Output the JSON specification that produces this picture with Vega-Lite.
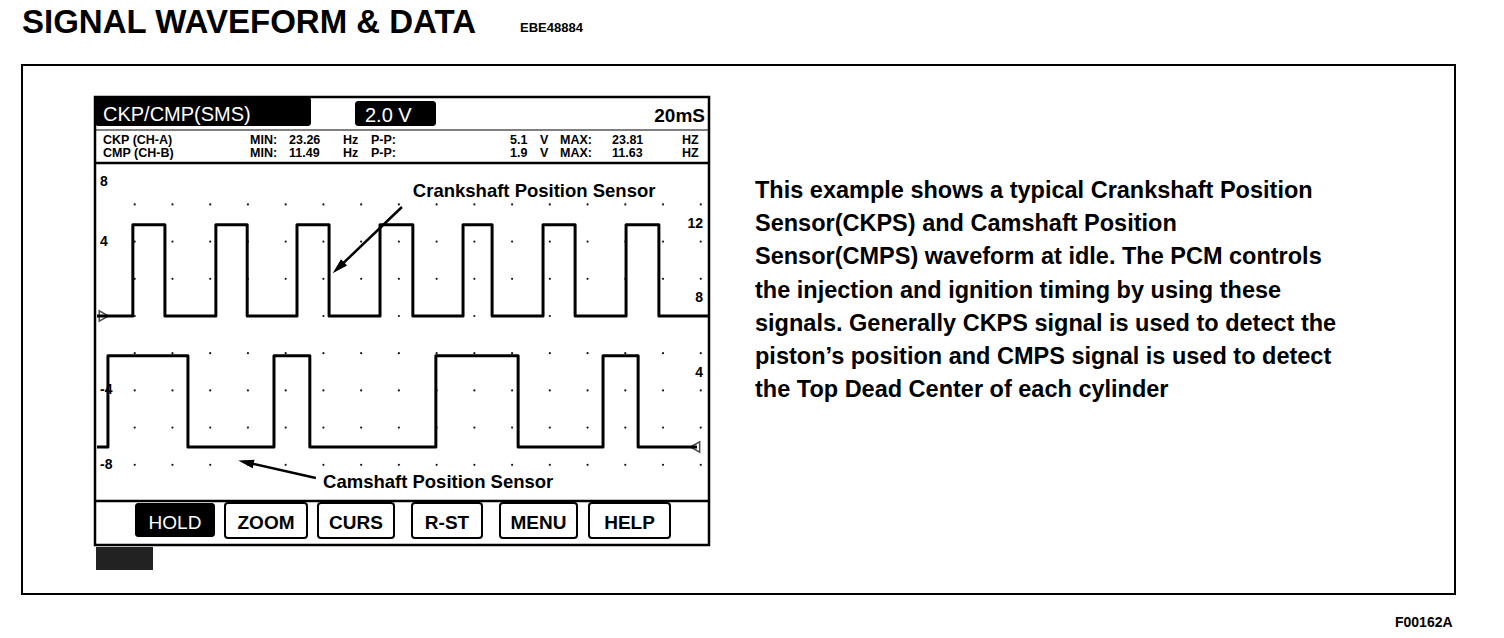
{
  "$schema": "https://vega.github.io/schema/vega-lite/v6.json",
  "width": 1504,
  "height": 638,
  "padding": 0,
  "autosize": {"type": "none"},
  "background": "white",
  "config": {"view": {"stroke": null}, "text": {"font": "Liberation Sans, Arial, sans-serif"}},
  "datasets": {
    "frame": [{"x": 22, "y": 65, "x2": 1455, "y2": 594}],
    "scope": [{"x": 95, "y": 97, "x2": 709, "y2": 545}],
    "blackBoxes": [
      {"x": 95, "y": 97, "x2": 311, "y2": 126},
      {"x": 355, "y": 101, "x2": 436, "y2": 126},
      {"x": 135, "y": 503, "x2": 215, "y2": 537}
    ],
    "noise": [{"x": 96, "y": 547, "x2": 153, "y2": 570}],
    "buttons": [
      {"x": 225, "y": 503, "x2": 307, "y2": 538},
      {"x": 318, "y": 503, "x2": 394, "y2": 538},
      {"x": 412, "y": 503, "x2": 482, "y2": 538},
      {"x": 500, "y": 503, "x2": 577, "y2": 538},
      {"x": 589, "y": 503, "x2": 670, "y2": 538}
    ],
    "thinLines": [{"x": 95, "y": 130, "x2": 709, "y2": 130}],
    "thickLines": [
      {"x": 95, "y": 163, "x2": 709, "y2": 163},
      {"x": 95, "y": 501, "x2": 709, "y2": 501}
    ],
    "headerWhite": [
      {"label": "CKP/CMP(SMS)", "x": 103, "y": 121},
      {"label": "2.0 V", "x": 365, "y": 122}
    ],
    "timebase": [{"label": "20mS", "x": 705, "y": 122}],
    "headerRows": [
      {"label": "CKP (CH-A)", "x": 103, "y": 144},
      {"label": "MIN:", "x": 250, "y": 144},
      {"label": "23.26", "x": 289, "y": 144},
      {"label": "Hz", "x": 343, "y": 144},
      {"label": "P-P:", "x": 371, "y": 144},
      {"label": "5.1", "x": 510, "y": 144},
      {"label": "V", "x": 540, "y": 144},
      {"label": "MAX:", "x": 560, "y": 144},
      {"label": "23.81", "x": 612, "y": 144},
      {"label": "HZ", "x": 682, "y": 144},
      {"label": "CMP (CH-B)", "x": 103, "y": 157},
      {"label": "MIN:", "x": 250, "y": 157},
      {"label": "11.49", "x": 289, "y": 157},
      {"label": "Hz", "x": 343, "y": 157},
      {"label": "P-P:", "x": 371, "y": 157},
      {"label": "1.9", "x": 510, "y": 157},
      {"label": "V", "x": 540, "y": 157},
      {"label": "MAX:", "x": 560, "y": 157},
      {"label": "11.63", "x": 612, "y": 157},
      {"label": "HZ", "x": 682, "y": 157}
    ],
    "buttonLabels": [
      {"label": "ZOOM", "x": 266, "y": 529},
      {"label": "CURS", "x": 356, "y": 529},
      {"label": "R-ST", "x": 447, "y": 529},
      {"label": "MENU", "x": 538.5, "y": 529},
      {"label": "HELP", "x": 629.5, "y": 529}
    ],
    "holdLabel": [{"label": "HOLD", "x": 175, "y": 529}],
    "title": [{"label": "SIGNAL WAVEFORM & DATA", "x": 22, "y": 33}],
    "code": [{"label": "EBE48884", "x": 520, "y": 32}],
    "figId": [{"label": "F00162A", "x": 1395, "y": 627}],
    "paragraph": [
      {"label": "This example shows a typical Crankshaft Position", "x": 755, "y": 198},
      {"label": "Sensor(CKPS) and Camshaft Position", "x": 755, "y": 231.2},
      {"label": "Sensor(CMPS) waveform at idle. The PCM controls", "x": 755, "y": 264.4},
      {"label": "the injection and ignition timing by using these", "x": 755, "y": 297.6},
      {"label": "signals.  Generally CKPS signal is used to detect the", "x": 755, "y": 330.8},
      {"label": "piston’s position and CMPS signal is used to detect", "x": 755, "y": 364},
      {"label": "the Top Dead Center of each cylinder", "x": 755, "y": 397.2}
    ],
    "ckp": [
      {"t": 0, "v": 0}, {"t": 9.5, "v": 4.9}, {"t": 18.0, "v": 0},
      {"t": 31.5, "v": 4.9}, {"t": 39.8, "v": 0},
      {"t": 53.0, "v": 4.9}, {"t": 61.5, "v": 0},
      {"t": 75.0, "v": 4.9}, {"t": 83.7, "v": 0},
      {"t": 97.0, "v": 4.9}, {"t": 104.7, "v": 0},
      {"t": 118.2, "v": 4.9}, {"t": 126.7, "v": 0},
      {"t": 140.2, "v": 4.9}, {"t": 148.9, "v": 0},
      {"t": 161.9, "v": 0}
    ],
    "cmp": [
      {"t": 0, "v": 0}, {"t": 2.9, "v": 4.9}, {"t": 24.1, "v": 0},
      {"t": 46.9, "v": 4.9}, {"t": 56.4, "v": 0},
      {"t": 89.8, "v": 4.9}, {"t": 111.6, "v": 0},
      {"t": 134.1, "v": 4.9}, {"t": 143.4, "v": 0},
      {"t": 159.0, "v": 0}
    ],
    "grid": [
      {"t": 10, "v": 6}, {"t": 20, "v": 6}, {"t": 30, "v": 6}, {"t": 40, "v": 6}, {"t": 50, "v": 6}, {"t": 60, "v": 6}, {"t": 70, "v": 6}, {"t": 80, "v": 6}, {"t": 90, "v": 6}, {"t": 100, "v": 6}, {"t": 110, "v": 6}, {"t": 120, "v": 6}, {"t": 130, "v": 6}, {"t": 140, "v": 6}, {"t": 150, "v": 6}, {"t": 160, "v": 6},
      {"t": 10, "v": 4}, {"t": 20, "v": 4}, {"t": 30, "v": 4}, {"t": 40, "v": 4}, {"t": 50, "v": 4}, {"t": 60, "v": 4}, {"t": 70, "v": 4}, {"t": 80, "v": 4}, {"t": 90, "v": 4}, {"t": 100, "v": 4}, {"t": 110, "v": 4}, {"t": 120, "v": 4}, {"t": 130, "v": 4}, {"t": 140, "v": 4}, {"t": 150, "v": 4}, {"t": 160, "v": 4},
      {"t": 10, "v": 2}, {"t": 20, "v": 2}, {"t": 30, "v": 2}, {"t": 40, "v": 2}, {"t": 50, "v": 2}, {"t": 60, "v": 2}, {"t": 70, "v": 2}, {"t": 80, "v": 2}, {"t": 90, "v": 2}, {"t": 100, "v": 2}, {"t": 110, "v": 2}, {"t": 120, "v": 2}, {"t": 130, "v": 2}, {"t": 140, "v": 2}, {"t": 150, "v": 2}, {"t": 160, "v": 2},
      {"t": 10, "v": 0}, {"t": 20, "v": 0}, {"t": 30, "v": 0}, {"t": 40, "v": 0}, {"t": 50, "v": 0}, {"t": 60, "v": 0}, {"t": 70, "v": 0}, {"t": 80, "v": 0}, {"t": 90, "v": 0}, {"t": 100, "v": 0}, {"t": 110, "v": 0}, {"t": 120, "v": 0}, {"t": 130, "v": 0}, {"t": 140, "v": 0}, {"t": 150, "v": 0}, {"t": 160, "v": 0},
      {"t": 10, "v": -2}, {"t": 20, "v": -2}, {"t": 30, "v": -2}, {"t": 40, "v": -2}, {"t": 50, "v": -2}, {"t": 60, "v": -2}, {"t": 70, "v": -2}, {"t": 80, "v": -2}, {"t": 90, "v": -2}, {"t": 100, "v": -2}, {"t": 110, "v": -2}, {"t": 120, "v": -2}, {"t": 130, "v": -2}, {"t": 140, "v": -2}, {"t": 150, "v": -2}, {"t": 160, "v": -2},
      {"t": 10, "v": -4}, {"t": 20, "v": -4}, {"t": 30, "v": -4}, {"t": 40, "v": -4}, {"t": 50, "v": -4}, {"t": 60, "v": -4}, {"t": 70, "v": -4}, {"t": 80, "v": -4}, {"t": 90, "v": -4}, {"t": 100, "v": -4}, {"t": 110, "v": -4}, {"t": 120, "v": -4}, {"t": 130, "v": -4}, {"t": 140, "v": -4}, {"t": 150, "v": -4}, {"t": 160, "v": -4},
      {"t": 10, "v": -6}, {"t": 20, "v": -6}, {"t": 30, "v": -6}, {"t": 40, "v": -6}, {"t": 50, "v": -6}, {"t": 60, "v": -6}, {"t": 70, "v": -6}, {"t": 80, "v": -6}, {"t": 90, "v": -6}, {"t": 100, "v": -6}, {"t": 110, "v": -6}, {"t": 120, "v": -6}, {"t": 130, "v": -6}, {"t": 140, "v": -6}, {"t": 150, "v": -6}, {"t": 160, "v": -6},
      {"t": 10, "v": -8}, {"t": 20, "v": -8}, {"t": 30, "v": -8}, {"t": 40, "v": -8}, {"t": 50, "v": -8}, {"t": 60, "v": -8}, {"t": 70, "v": -8}, {"t": 80, "v": -8}, {"t": 90, "v": -8}, {"t": 100, "v": -8}, {"t": 110, "v": -8}, {"t": 120, "v": -8}, {"t": 130, "v": -8}, {"t": 140, "v": -8}, {"t": 150, "v": -8}, {"t": 160, "v": -8}
    ],
    "leftLabels": [
      {"label": "4", "t": 0.8, "v": 4},
      {"label": "-4", "t": 0.8, "v": -4},
      {"label": "-8", "t": 0.8, "v": -8}
    ],
    "topLabel": [{"label": "8", "t": 0.8, "v": 8}],
    "markerA": [{"t": 1.8, "v": 0}],
    "notes": [
      {"label": "Crankshaft Position Sensor", "t": 83.7, "v": 6.4},
      {"label": "Camshaft Position Sensor", "t": 59.9, "v": -9.25}
    ],
    "arrows": [
      {"t": 80.8, "v": 5.86, "t2": 64.08, "v2": 2.613},
      {"t": 58.0, "v": -8.71, "t2": 39.64, "v2": -7.871}
    ],
    "headCrank": [{"t": 64.08, "v": 2.613}],
    "headCam": [{"t": 39.64, "v": -7.871}],
    "rightLabels": [
      {"label": "12", "t": 160.6, "v": 12},
      {"label": "8", "t": 160.6, "v": 8},
      {"label": "4", "t": 160.6, "v": 4}
    ],
    "markerB": [{"t": 158.5, "v": 0}]
  },
  "layer": [
    {
      "encoding": {
        "x": {"field": "x", "type": "quantitative", "axis": null, "scale": {"domain": [0, 1504], "nice": false, "zero": false}},
        "y": {"field": "y", "type": "quantitative", "axis": null, "scale": {"domain": [0, 638], "reverse": true, "nice": false, "zero": false}}
      },
      "layer": [
        {"data": {"name": "frame"}, "mark": {"type": "rect", "fill": "white", "stroke": "black", "strokeWidth": 2}, "encoding": {"x2": {"field": "x2"}, "y2": {"field": "y2"}}},
        {"data": {"name": "scope"}, "mark": {"type": "rect", "fill": "white", "stroke": "black", "strokeWidth": 2.5}, "encoding": {"x2": {"field": "x2"}, "y2": {"field": "y2"}}},
        {"data": {"name": "thinLines"}, "mark": {"type": "rule", "stroke": "black", "strokeWidth": 1}, "encoding": {"x2": {"field": "x2"}, "y2": {"field": "y2"}}},
        {"data": {"name": "thickLines"}, "mark": {"type": "rule", "stroke": "black", "strokeWidth": 2.5}, "encoding": {"x2": {"field": "x2"}, "y2": {"field": "y2"}}},
        {"data": {"name": "blackBoxes"}, "mark": {"type": "rect", "fill": "black", "cornerRadius": 3}, "encoding": {"x2": {"field": "x2"}, "y2": {"field": "y2"}}},
        {"data": {"name": "noise"}, "mark": {"type": "rect", "fill": "#222222"}, "encoding": {"x2": {"field": "x2"}, "y2": {"field": "y2"}}},
        {"data": {"name": "buttons"}, "mark": {"type": "rect", "fill": "white", "stroke": "black", "strokeWidth": 2, "cornerRadius": 3}, "encoding": {"x2": {"field": "x2"}, "y2": {"field": "y2"}}},
        {"data": {"name": "headerWhite"}, "mark": {"type": "text", "align": "left", "baseline": "alphabetic", "fontSize": 20, "fill": "white"}, "encoding": {"text": {"field": "label"}}},
        {"data": {"name": "timebase"}, "mark": {"type": "text", "align": "right", "baseline": "alphabetic", "fontSize": 19, "fontWeight": "bold", "fill": "black"}, "encoding": {"text": {"field": "label"}}},
        {"data": {"name": "headerRows"}, "mark": {"type": "text", "align": "left", "baseline": "alphabetic", "fontSize": 12.5, "fontWeight": "bold", "fill": "black"}, "encoding": {"text": {"field": "label"}}},
        {"data": {"name": "buttonLabels"}, "mark": {"type": "text", "align": "center", "baseline": "alphabetic", "fontSize": 19, "fontWeight": "bold", "fill": "black"}, "encoding": {"text": {"field": "label"}}},
        {"data": {"name": "holdLabel"}, "mark": {"type": "text", "align": "center", "baseline": "alphabetic", "fontSize": 19, "fill": "white"}, "encoding": {"text": {"field": "label"}}},
        {"data": {"name": "title"}, "mark": {"type": "text", "align": "left", "baseline": "alphabetic", "fontSize": 33, "fontWeight": "bold", "fill": "black"}, "encoding": {"text": {"field": "label"}}},
        {"data": {"name": "code"}, "mark": {"type": "text", "align": "left", "baseline": "alphabetic", "fontSize": 13, "fontWeight": "bold", "fill": "black"}, "encoding": {"text": {"field": "label"}}},
        {"data": {"name": "figId"}, "mark": {"type": "text", "align": "left", "baseline": "alphabetic", "fontSize": 14, "fontWeight": "bold", "fill": "black"}, "encoding": {"text": {"field": "label"}}},
        {"data": {"name": "paragraph"}, "mark": {"type": "text", "align": "left", "baseline": "alphabetic", "fontSize": 23.5, "fontWeight": "bold", "fill": "black"}, "encoding": {"text": {"field": "label"}}}
      ]
    },
    {
      "encoding": {
        "x": {"field": "t", "type": "quantitative", "axis": null, "scale": {"domain": [-25.705, 372.855], "nice": false, "zero": false}},
        "y": {"field": "v", "type": "quantitative", "axis": null, "scale": {"domain": [-17.312, 16.989], "nice": false, "zero": false}}
      },
      "layer": [
        {"data": {"name": "grid"}, "mark": {"type": "point", "filled": true, "fill": "black", "size": 5, "opacity": 0.9}},
        {"data": {"name": "ckp"}, "mark": {"type": "line", "interpolate": "step-after", "stroke": "black", "strokeWidth": 3, "strokeJoin": "round"}, "encoding": {}},
        {"data": {"name": "leftLabels"}, "mark": {"type": "text", "align": "left", "baseline": "middle", "fontSize": 14, "fontWeight": "bold", "fill": "black"}, "encoding": {"text": {"field": "label"}}},
        {"data": {"name": "topLabel"}, "mark": {"type": "text", "align": "left", "baseline": "middle", "fontSize": 14, "fontWeight": "bold", "fill": "black", "dy": 15}, "encoding": {"text": {"field": "label"}}},
        {"data": {"name": "markerA"}, "mark": {"type": "point", "shape": "triangle-right", "filled": false, "stroke": "black", "strokeWidth": 1.5, "size": 110}},
        {"data": {"name": "notes"}, "mark": {"type": "text", "align": "left", "baseline": "alphabetic", "fontSize": 18.5, "fontWeight": "bold", "fill": "black"}, "encoding": {"text": {"field": "label"}}},
        {"data": {"name": "arrows"}, "mark": {"type": "rule", "stroke": "black", "strokeWidth": 2.5}, "encoding": {"x2": {"field": "t2"}, "y2": {"field": "v2"}}},
        {"data": {"name": "headCrank"}, "mark": {"type": "point", "shape": "M0,-1L0.55,1L-0.55,1Z", "filled": true, "fill": "black", "stroke": "black", "strokeWidth": 1, "size": 180, "angle": 226, "opacity": 1}},
        {"data": {"name": "headCam"}, "mark": {"type": "point", "shape": "M0,-1L0.55,1L-0.55,1Z", "filled": true, "fill": "black", "stroke": "black", "strokeWidth": 1, "size": 180, "angle": 282, "opacity": 1}}
      ]
    },
    {
      "encoding": {
        "x": {"field": "t", "type": "quantitative", "axis": null, "scale": {"domain": [-25.705, 372.855], "nice": false, "zero": false}},
        "y": {"field": "v", "type": "quantitative", "axis": null, "scale": {"domain": [-10.269, 24.032], "nice": false, "zero": false}}
      },
      "layer": [
        {"data": {"name": "cmp"}, "mark": {"type": "line", "interpolate": "step-after", "stroke": "black", "strokeWidth": 3, "strokeJoin": "round"}, "encoding": {}},
        {"data": {"name": "rightLabels"}, "mark": {"type": "text", "align": "right", "baseline": "middle", "fontSize": 14, "fontWeight": "bold", "fill": "black"}, "encoding": {"text": {"field": "label"}}},
        {"data": {"name": "markerB"}, "mark": {"type": "point", "shape": "triangle-left", "filled": false, "stroke": "black", "strokeWidth": 1.5, "size": 110}}
      ]
    }
  ],
  "resolve": {"scale": {"x": "independent", "y": "independent"}}
}
